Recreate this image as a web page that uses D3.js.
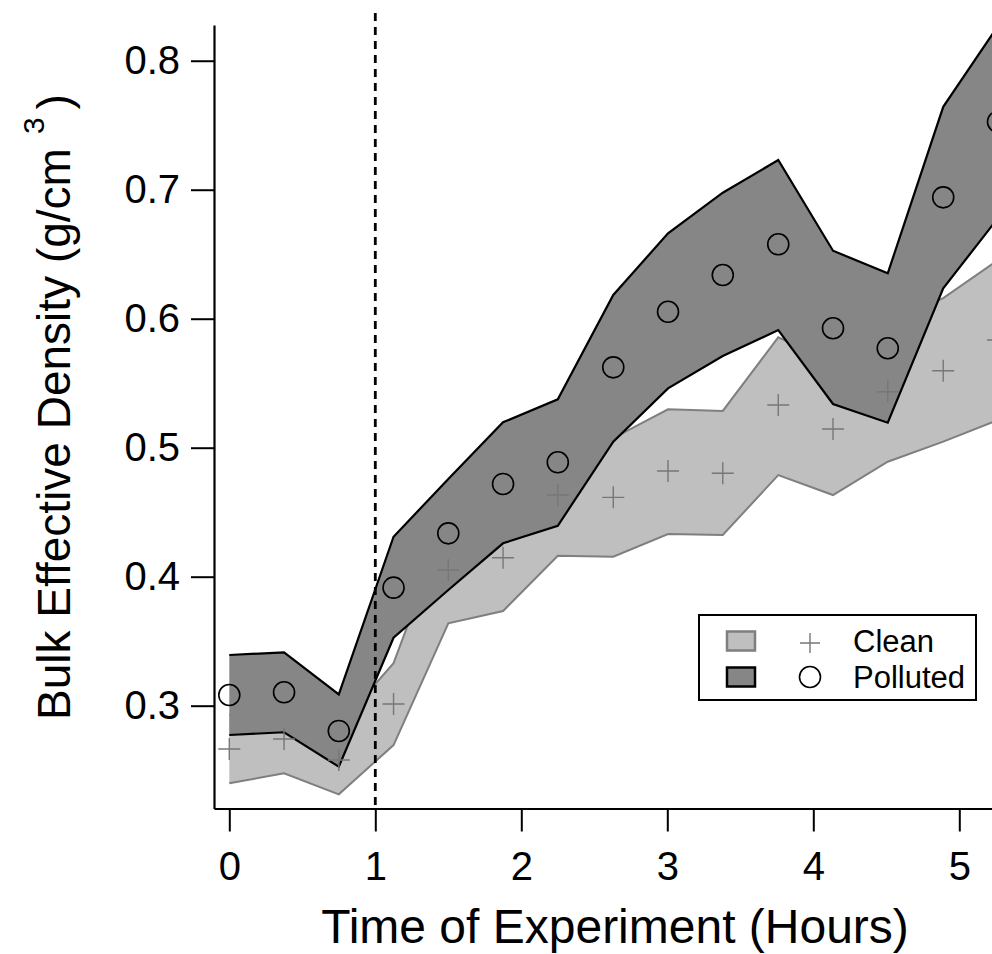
<!DOCTYPE html>
<html>
<head>
<meta charset="utf-8">
<script src="https://cdn.jsdelivr.net/npm/d3@7"></script>
<style>
  html, body { margin: 0; padding: 0; background: #fff; }
  svg { display: block; font-family: "Liberation Sans", Arial, Helvetica, sans-serif; }
</style>
</head>
<body>
<svg id="chart" width="992" height="954"></svg>
<script>
// Sampling times (hours since start of experiment)
const times = [0, 0.375, 0.75, 1.125, 1.5, 1.875, 2.25, 2.63, 3.005, 3.38, 3.76, 4.135, 4.51, 4.89, 5.265];

// Clean particles: mean bulk effective density and its uncertainty envelope (g/cm^3)
const cleanMean = [0.2664, 0.2742, 0.2579, 0.3013, 0.4052, 0.4147, 0.4633, 0.4615, 0.4819, 0.4802, 0.5331, 0.5145, 0.5434, 0.5597, 0.5835];
const cleanLow  = [0.2398, 0.2476, 0.2313, 0.2695, 0.3639, 0.3734, 0.4163, 0.4155, 0.4331, 0.4323, 0.4788, 0.4633, 0.4891, 0.5047, 0.5215];
const cleanHigh = [0.2930, 0.3008, 0.2845, 0.3330, 0.4465, 0.4560, 0.5103, 0.5075, 0.5298, 0.5285, 0.5856, 0.5657, 0.5977, 0.6160, 0.6455];

// Polluted particles
const pollutedMean = [0.3083, 0.3104, 0.2804, 0.3915, 0.4336, 0.4719, 0.4887, 0.5623, 0.6054, 0.6339, 0.6577, 0.5926, 0.5771, 0.6941, 0.7527];
const pollutedLow  = [0.2773, 0.2794, 0.2527, 0.3527, 0.3897, 0.4259, 0.4395, 0.5047, 0.5460, 0.5711, 0.5912, 0.5339, 0.5194, 0.6236, 0.6780];
const pollutedHigh = [0.3393, 0.3414, 0.3088, 0.4310, 0.4757, 0.5197, 0.5375, 0.6184, 0.6662, 0.6977, 0.7230, 0.6527, 0.6352, 0.7643, 0.8270];

const xTicks = [0, 1, 2, 3, 4, 5];
const yTicks = [0.3, 0.4, 0.5, 0.6, 0.7, 0.8];
const markerTime = 1;            // dashed reference line
const legendLabels = ["Clean", "Polluted"];

const LIGHT_FILL = "#bfbfbf", LIGHT_STROKE = "#7f7f7f";
const DARK_FILL = "#868686", DARK_STROKE = "#000";
const PLUS_COLOR = "#777";

const svg = d3.select("#chart");

const x = d3.scaleLinear().domain([-0.1048, 5.224]).range([214, 992]);
const y = d3.scaleLinear().domain([0.2203, 0.8277]).range([808.5, 25]);

function rows(mean, lo, hi) {
  return times.map((t, i) => ({ t, m: mean[i], lo: lo[i], hi: hi[i] }));
}
const clean = rows(cleanMean, cleanLow, cleanHigh);
const polluted = rows(pollutedMean, pollutedLow, pollutedHigh);

const area = d3.area().x(d => x(d.t)).y0(d => y(d.lo)).y1(d => y(d.hi));
const lineLo = d3.line().x(d => x(d.t)).y(d => y(d.lo));
const lineHi = d3.line().x(d => x(d.t)).y(d => y(d.hi));

const plot = svg.append("g");

// Clean envelope
plot.append("path").attr("d", area(clean)).attr("fill", LIGHT_FILL);
plot.append("path").attr("d", lineLo(clean)).attr("fill", "none").attr("stroke", LIGHT_STROKE).attr("stroke-width", 2);
plot.append("path").attr("d", lineHi(clean)).attr("fill", "none").attr("stroke", LIGHT_STROKE).attr("stroke-width", 2);

// Polluted envelope
plot.append("path").attr("d", area(polluted)).attr("fill", DARK_FILL);
plot.append("path").attr("d", lineLo(polluted)).attr("fill", "none").attr("stroke", DARK_STROKE).attr("stroke-width", 2.2).attr("stroke-linejoin", "miter");
plot.append("path").attr("d", lineHi(polluted)).attr("fill", "none").attr("stroke", DARK_STROKE).attr("stroke-width", 2.2).attr("stroke-linejoin", "miter");

// Clean markers (plus)
const plusPath = "M-11,0H11M0,-11V11";
plot.selectAll(".plus").data(clean).join("path")
  .attr("class", "plus")
  .attr("transform", d => `translate(${x(d.t)},${y(d.m)})`)
  .attr("d", plusPath)
  .attr("stroke", PLUS_COLOR).attr("stroke-width", 1.4).attr("fill", "none");

// Polluted markers (open circles)
plot.selectAll(".circ").data(polluted).join("circle")
  .attr("class", "circ")
  .attr("cx", d => x(d.t)).attr("cy", d => y(d.m)).attr("r", 10.5)
  .attr("fill", "none").attr("stroke", "#000").attr("stroke-width", 1.6);

// Dashed reference line
svg.append("line")
  .attr("x1", x(markerTime)).attr("x2", x(markerTime))
  .attr("y1", 13).attr("y2", 808.5)
  .attr("stroke", "#000").attr("stroke-width", 2.8)
  .attr("stroke-dasharray", "8,6");

// Axes
const xAxis = d3.axisBottom(x).tickValues(xTicks).tickFormat(d3.format("d"))
  .tickSize(23).tickSizeOuter(0).tickPadding(20);
const gx = svg.append("g").attr("transform", "translate(0,808.5)").call(xAxis);

const yAxis = d3.axisLeft(y).tickValues(yTicks).tickFormat(d3.format(".1f"))
  .tickSize(23).tickSizeOuter(0).tickPadding(11);
const gy = svg.append("g").attr("transform", "translate(214,0)").call(yAxis);

[gx, gy].forEach(g => {
  g.select(".domain").attr("stroke", "#000").attr("stroke-width", 2.2);
  g.selectAll(".tick line").attr("stroke", "#000").attr("stroke-width", 2);
  g.selectAll(".tick text").attr("fill", "#000")
    .style("font-size", "40px").style("font-family", '"Liberation Sans", Arial, sans-serif');
});

// Axis titles
svg.append("text")
  .attr("x", 615).attr("y", 943)
  .attr("text-anchor", "middle")
  .style("font-size", "48px").attr("fill", "#000")
  .text("Time of Experiment (Hours)");

const yTitle = svg.append("text")
  .attr("transform", "translate(70,407) rotate(-90)")
  .attr("text-anchor", "middle")
  .style("font-size", "46px").attr("fill", "#000");
yTitle.append("tspan").text("Bulk Effective Density (g/cm");
yTitle.append("tspan").attr("dx", 14).attr("dy", -26).style("font-size", "30px").text("3");
yTitle.append("tspan").attr("dx", 8).attr("dy", 26).text(")");

// Legend
const lg = svg.append("g");
lg.append("rect").attr("x", 699).attr("y", 615).attr("width", 277).attr("height", 85)
  .attr("fill", "#fff").attr("stroke", "#000").attr("stroke-width", 2);
const legendItems = [
  { label: legendLabels[0], fill: LIGHT_FILL, stroke: LIGHT_STROKE, marker: "plus", cy: 641 },
  { label: legendLabels[1], fill: DARK_FILL, stroke: DARK_STROKE, marker: "circle", cy: 677 }
];
legendItems.forEach(it => {
  lg.append("rect").attr("x", 727).attr("y", it.cy - 9.5).attr("width", 28).attr("height", 19)
    .attr("fill", it.fill).attr("stroke", it.stroke).attr("stroke-width", 2.5);
  if (it.marker === "plus") {
    lg.append("path").attr("transform", `translate(810,${it.cy + 2})`).attr("d", "M-10,0H10M0,-10V10")
      .attr("stroke", PLUS_COLOR).attr("stroke-width", 1.4);
  } else {
    lg.append("circle").attr("cx", 810).attr("cy", it.cy).attr("r", 10.5)
      .attr("fill", "none").attr("stroke", "#000").attr("stroke-width", 1.6);
  }
  lg.append("text").attr("x", 853).attr("y", it.cy + 10.5)
    .style("font-size", "31px").attr("fill", "#000").text(it.label);
});
</script>
</body>
</html>
